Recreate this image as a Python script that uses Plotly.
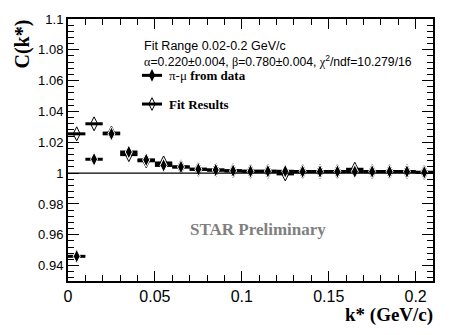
import plotly.graph_objects as go

# ---- data ----
k_star = [0.005, 0.015, 0.025, 0.035, 0.045, 0.055, 0.065, 0.075, 0.085, 0.095, 0.105,
          0.115, 0.125, 0.135, 0.145, 0.155, 0.165, 0.175, 0.185, 0.195, 0.205]
bin_half = [0.005] * len(k_star)
c_data = [0.946, 1.009, 1.0255, 1.0137, 1.0086, 1.005, 1.004, 1.0025, 1.002, 1.0015, 1.0012,
          1.0012, 1.0012, 1.001, 1.001, 1.001, 1.001, 1.001, 1.001, 1.001, 1.0005]
c_data_err = [0.004, 0.001, 0.001, 0.0008, 0.0007, 0.0006, 0.0005, 0.0004, 0.0004, 0.0004, 0.0003,
              0.0003, 0.0003, 0.0003, 0.0003, 0.0003, 0.0003, 0.0003, 0.0003, 0.0003, 0.0003]
c_fit = [1.0255, 1.032, 1.026, 1.012, 1.008, 1.0066, 1.004, 1.0025, 1.002, 1.0015, 1.0012,
         1.0012, 0.9995, 1.001, 1.001, 1.001, 1.0025, 1.001, 1.001, 1.001, 1.0005]

x_ticks = [0, 0.05, 0.1, 0.15, 0.2]
y_ticks = [0.94, 0.96, 0.98, 1.0, 1.02, 1.04, 1.06, 1.08, 1.1]

W, H = 457, 335
L, R, T, B = 68, 24, 16, 54
PW, PH = W - L - R, H - T - B


def px(x):
    return (x - L) / PW


def py(y):
    return (H - B - y) / PH


SANS = "Liberation Sans, Arial, sans-serif"
SERIF = "Liberation Serif, Times New Roman, serif"

fig = go.Figure()

# fit results (open diamonds)
fig.add_trace(go.Scatter(
    x=k_star, y=c_fit, mode="markers",
    marker=dict(symbol="diamond-tall-open", size=10, color="black", line=dict(width=1, color="black")),
    error_x=dict(type="data", array=bin_half, thickness=3, width=0, color="black"),
    showlegend=False, hoverinfo="skip"))

# data (filled diamonds)
fig.add_trace(go.Scatter(
    x=k_star, y=c_data, mode="markers",
    marker=dict(symbol="diamond-tall", size=10, color="black", line=dict(width=1, color="white")),
    error_x=dict(type="data", array=bin_half, thickness=3, width=0, color="black"),
    error_y=dict(type="data", array=c_data_err, thickness=1.5, width=0, color="black"),
    showlegend=False, hoverinfo="skip"))

# legend symbols on an overlay axis (paper-like coords)
leg_y = [py(73), py(102)]
fig.add_trace(go.Scatter(x=[px(152)], y=[leg_y[0]], xaxis="x2", yaxis="y2", mode="markers",
                         marker=dict(symbol="diamond-tall", size=9, color="black"),
                         showlegend=False, hoverinfo="skip"))
fig.add_trace(go.Scatter(x=[px(152)], y=[leg_y[1]], xaxis="x2", yaxis="y2", mode="markers",
                         marker=dict(symbol="diamond-tall-open", size=9, color="black",
                                     line=dict(width=1, color="black")),
                         showlegend=False, hoverinfo="skip"))

shapes = [
    dict(type="line", xref="paper", yref="y", x0=0, x1=1, y0=1.0, y1=1.0,
         line=dict(color="black", width=1.2)),
    dict(type="line", xref="paper", yref="paper", x0=px(142), x1=px(162), y0=leg_y[0], y1=leg_y[0],
         line=dict(color="black", width=3)),
    dict(type="line", xref="paper", yref="paper", x0=px(142), x1=px(162), y0=leg_y[1], y1=leg_y[1],
         line=dict(color="black", width=3)),
]

annotations = [
    dict(text="Fit Range 0.02-0.2 GeV/c", x=px(142), y=py(43), xref="paper", yref="paper",
         xanchor="left", yanchor="middle", showarrow=False, font=dict(family=SANS, size=12.5, color="black")),
    dict(text="<span style='font-family:Liberation Serif'>α</span>=0.220±0.004, "
              "<span style='font-family:Liberation Serif'>β</span>=0.780±0.004, "
              "<span style='font-family:Liberation Serif'>χ</span><sup>2</sup>/ndf=10.279/16",
         x=px(142), y=py(58), xref="paper", yref="paper",
         xanchor="left", yanchor="middle", showarrow=False, font=dict(family=SANS, size=12.2, color="black")),
    dict(text="π-μ <b>from data</b>", x=px(167), y=py(73), xref="paper", yref="paper",
         xanchor="left", yanchor="middle", showarrow=False, font=dict(family=SERIF, size=13, color="black")),
    dict(text="<b>Fit Results</b>", x=px(167), y=py(102), xref="paper", yref="paper",
         xanchor="left", yanchor="middle", showarrow=False, font=dict(family=SERIF, size=13, color="black")),
    dict(text="<b>STAR Preliminary</b>", x=px(258), y=py(229), xref="paper", yref="paper",
         xanchor="center", yanchor="middle", showarrow=False, font=dict(family=SERIF, size=17, color="#7f7f7f")),
    dict(text="<b>C(k*)</b>", x=px(23), y=py(15), xref="paper", yref="paper", textangle=-90,
         xanchor="center", yanchor="top", showarrow=False, font=dict(family=SERIF, size=20, color="black")),
    dict(text="<b>k* (GeV/c)</b>", x=px(434), y=py(315), xref="paper", yref="paper",
         xanchor="right", yanchor="middle", showarrow=False, borderpad=0,
         font=dict(family=SERIF, size=19, color="black")),
]

fig.update_layout(
    width=W, height=H,
    margin=dict(l=L, r=R, t=T, b=B, pad=0),
    paper_bgcolor="white", plot_bgcolor="white",
    shapes=shapes, annotations=annotations,
    xaxis=dict(range=[0, 0.21], tickvals=x_ticks, ticktext=[("%g" % v) for v in x_ticks],
               ticks="inside", ticklen=10, tickwidth=1, tickcolor="black",
               minor=dict(dtick=0.01, ticks="inside", ticklen=6, tickcolor="black", tickwidth=1, showgrid=False),
               showline=True, linecolor="black", linewidth=2, mirror="allticks",
               showgrid=False, zeroline=False,
               tickfont=dict(family=SANS, size=16, color="black")),
    yaxis=dict(range=[0.93, 1.1], tickvals=y_ticks, ticktext=[("%g" % v) for v in y_ticks],
               ticks="inside", ticklen=11, tickwidth=1, tickcolor="black",
               minor=dict(dtick=0.004, tick0=0.94, ticks="inside", ticklen=6, tickcolor="black", tickwidth=1,
                          showgrid=False),
               showline=True, linecolor="black", linewidth=2, mirror="allticks",
               showgrid=False, zeroline=False,
               tickfont=dict(family=SANS, size=13, color="black")),
    xaxis2=dict(overlaying="x", range=[0, 1], visible=False, fixedrange=True),
    yaxis2=dict(overlaying="y", range=[0, 1], visible=False, fixedrange=True),
)

fig.write_html("out.html", config={"displayModeBar": False},
               post_script="document.body.style.margin='0';document.body.style.padding='0';")
